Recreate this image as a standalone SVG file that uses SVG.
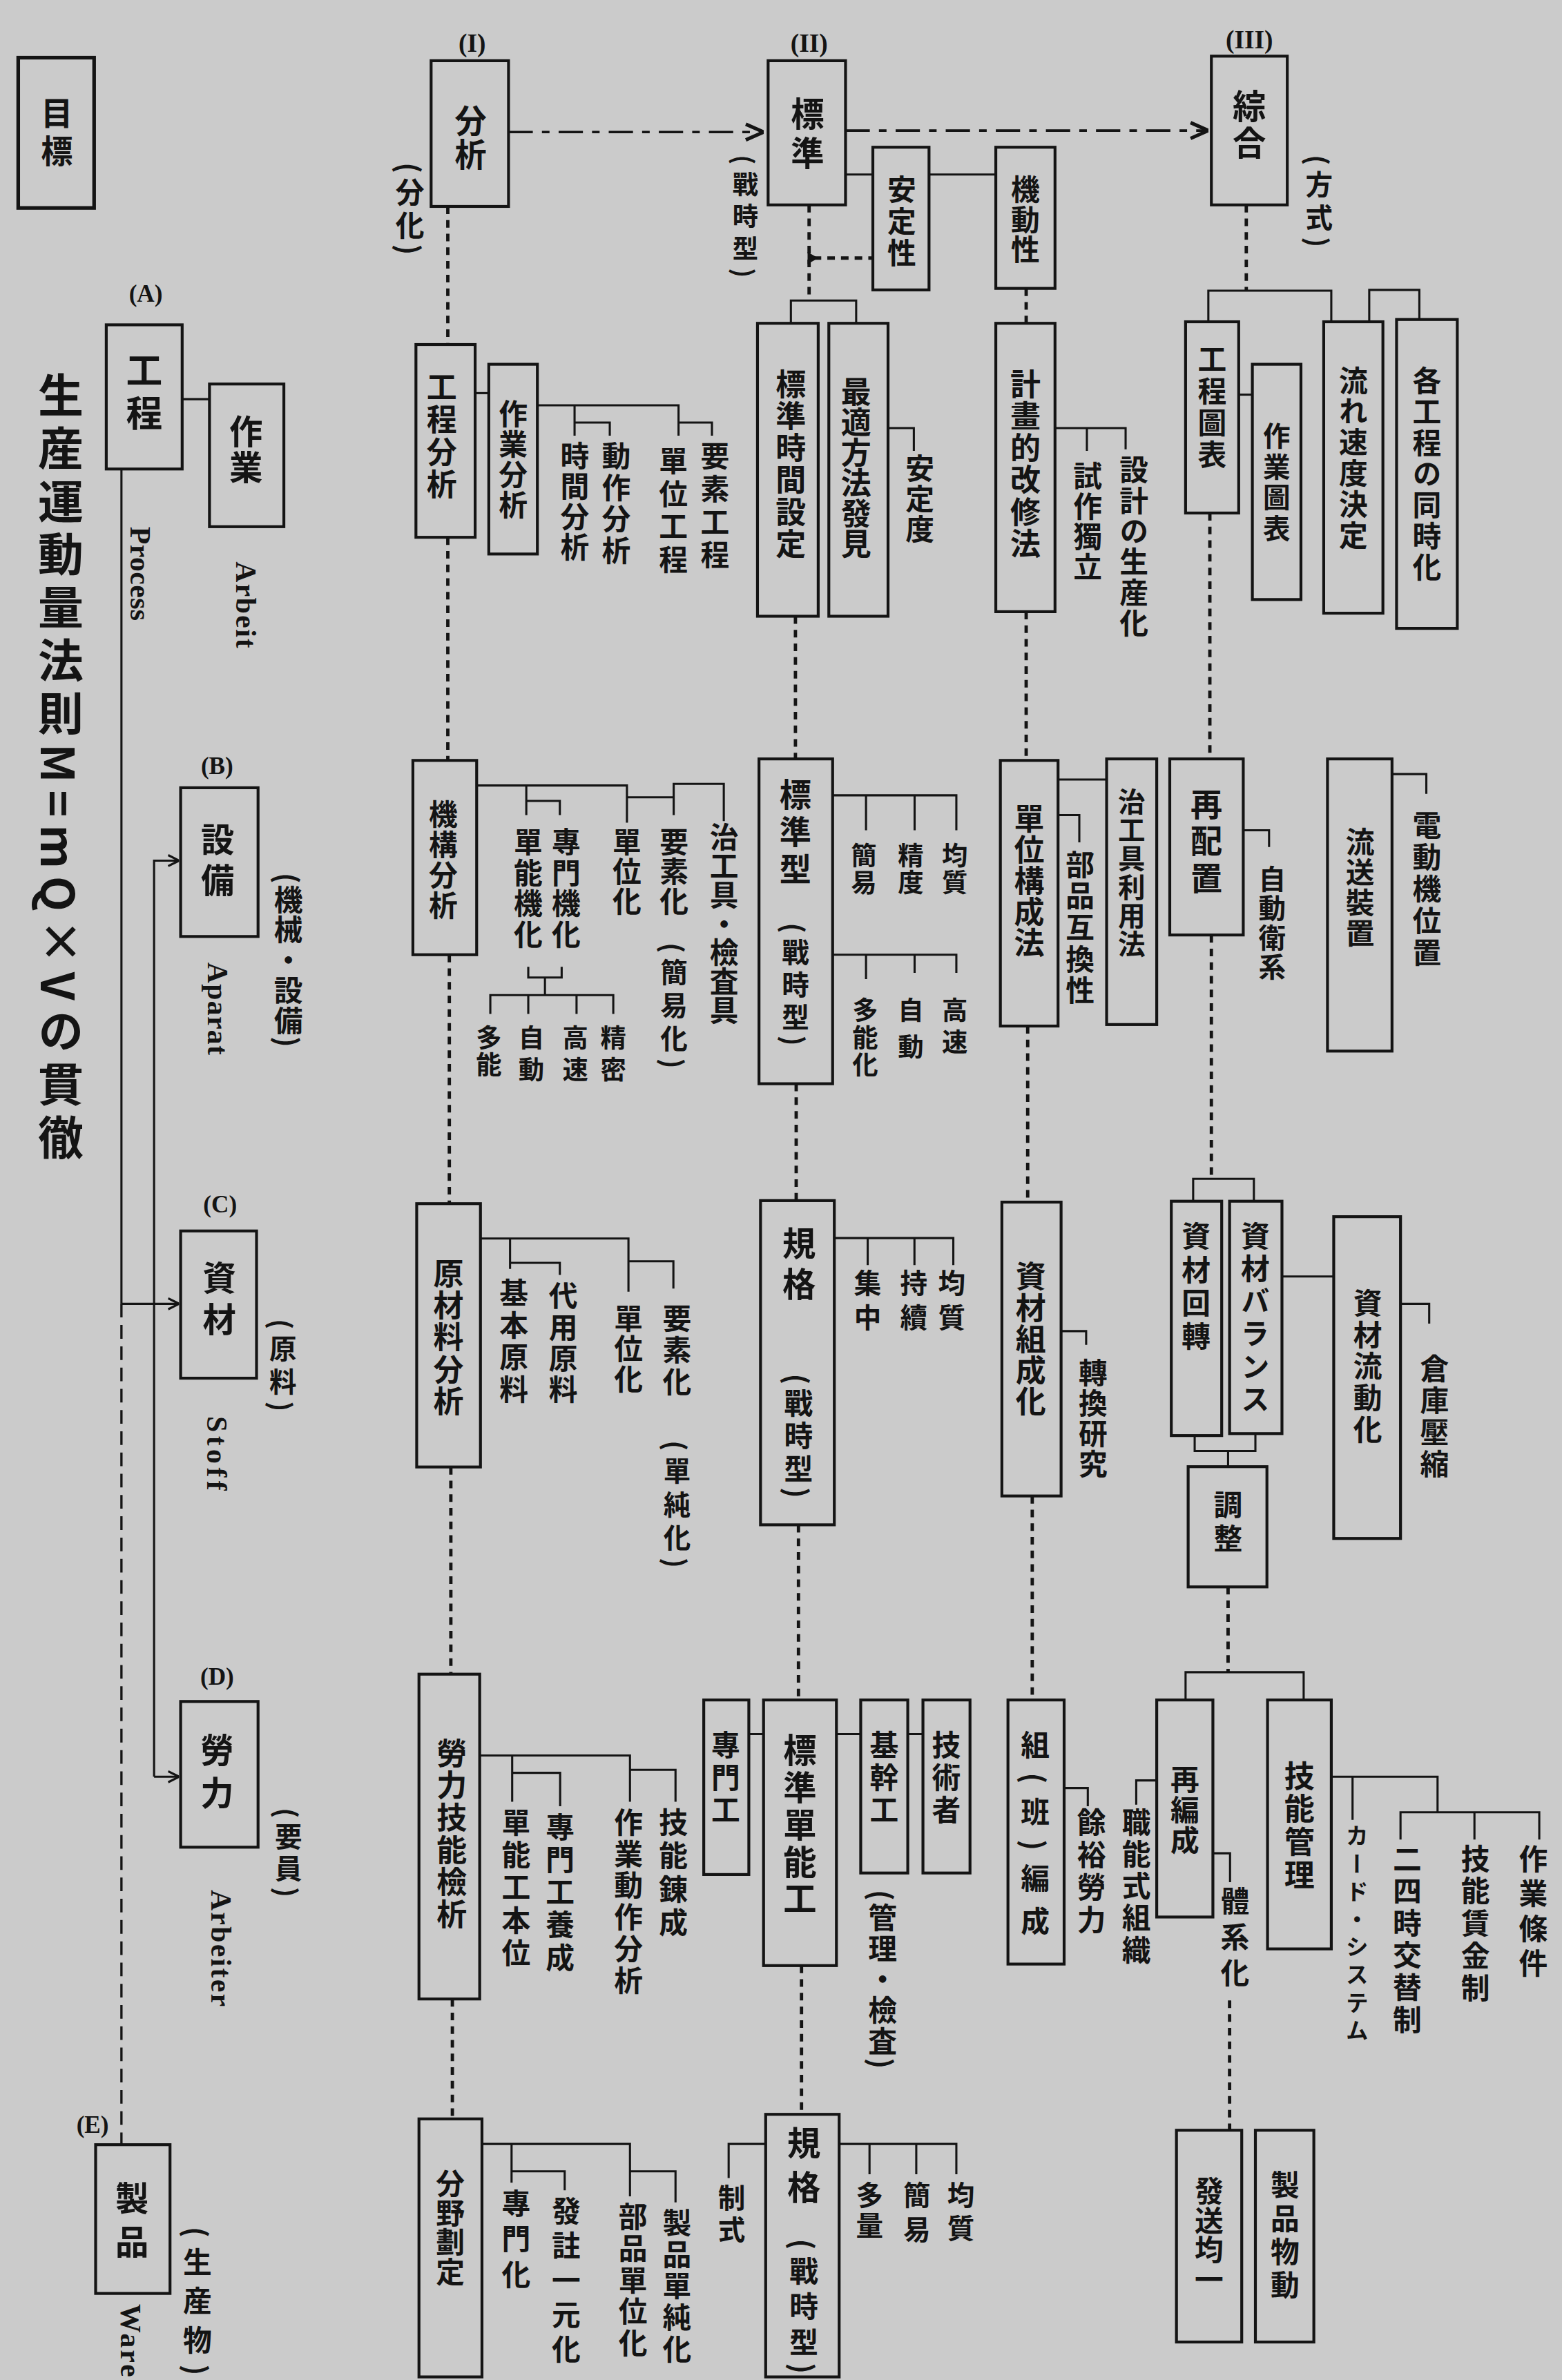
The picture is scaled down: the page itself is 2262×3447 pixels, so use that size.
<svg xmlns="http://www.w3.org/2000/svg" width="2262" height="3447" viewBox="0 0 2262 3447">
<style>
.bg{fill:#cbcbcb}
.b{fill:none;stroke:#141414;stroke-width:1.9}
.c{fill:none;stroke:#141414;stroke-width:1.4}
.d{fill:none;stroke:#141414;stroke-width:2.2;stroke-dasharray:5 4}
.dd{fill:none;stroke:#141414;stroke-width:1.7;stroke-dasharray:16 6 5 6}
.ld{fill:none;stroke:#141414;stroke-width:1.5;stroke-dasharray:9 5}
.v{writing-mode:vertical-rl;font-family:"Noto Sans CJK JP","Noto Sans CJK TC",sans-serif;font-weight:700;fill:#141414}
.l{writing-mode:vertical-rl;font-family:"Liberation Serif",serif;font-weight:700;fill:#141414}
.h{font-family:"Liberation Serif",serif;font-weight:700;fill:#141414;text-anchor:middle}
</style>
<defs>
<marker id="oa" viewBox="0 0 10 10" refX="10" refY="5" markerWidth="9" markerHeight="9" orient="auto" markerUnits="userSpaceOnUse"><path d="M2 1 L10 5 L2 9" fill="none" stroke="#141414" stroke-width="1.6"/></marker>
<marker id="ah" viewBox="0 0 10 10" refX="10" refY="5" markerWidth="13" markerHeight="13" orient="auto" markerUnits="userSpaceOnUse"><path d="M1 1 L10 5 L1 9" fill="none" stroke="#141414" stroke-width="1.8"/></marker>
</defs>
<rect class="bg" x="0" y="0" width="2262" height="3447"/>
<g transform="scale(2.1983)">

<g id="connectors">
<path class="dd" d="M335 87 H503" marker-end="url(#ah)"/>
<path class="dd" d="M557 86 H796" marker-end="url(#ah)"/>
<path class="c" d="M120 263 H138"/>
<path class="c" d="M80 309 V859"/>
<path class="ld" d="M80 859 V1413"/>
<path class="c" d="M80 859 H118" marker-end="url(#oa)"/>
<path class="c" d="M101.5 1170.6 V567 H118" marker-end="url(#oa)"/>
<path class="c" d="M101.5 1170.6 H118" marker-end="url(#oa)"/>
<path class="d" d="M295 136 V227 M295 354 V501 M296 629 V793 M297 966.5 V1103 M298 1317 V1396"/>
<path class="c" d="M313 259 H322"/>
<path class="c" d="M354 267 H447 V287 M378.5 267 V287 M378.5 278.4 H401.7 V287 M447 278.4 H469 V287"/>
<path class="c" d="M314 517.5 H413 V542 M346.7 517.5 V537 M346.7 527.7 H368.8 V537 M413 525.3 H443.8 V537 M443.8 525.3 V516.4 H476.8 V541"/>
<path class="c" d="M348 637 V644 H370 V637 M359 644 V655.6 M323 668 V655.6 H404 V668 M348 655.6 V668 M379.8 655.6 V668"/>
<path class="c" d="M316.4 816 H414 V851 M336 816 V836 M336 832 H368.8 V840 M414 831 H443.6 V849"/>
<path class="c" d="M316 1156.6 H415 V1187 M337.4 1156.6 V1187 M337.4 1168 H369 V1190 M415 1166 H445 V1187"/>
<path class="c" d="M317.5 1412.5 H415 V1447 M337 1412.5 V1438 M337 1430.5 H372 V1443 M415 1430.5 H445 V1451"/>
<path class="d" d="M533 135 V198 M524 406 V500 M524.5 714 V791 M526 1004.6 V1120 M528 1295 V1393"/>
<path class="d" d="M536 170 H575"/>
<path d="M532 166 L539 170 L532 174 Z" fill="#141414"/>
<path class="c" d="M521 213 V198 H564 V213"/>
<path class="c" d="M557 115 H575 M612 115 H656"/>
<path class="c" d="M585 282 H602 V297"/>
<path class="c" d="M548.5 524 H630 V547 M570.5 524 V547 M602.5 524 V547 M548.5 629 H630 V641 M570.5 629 V645 M602.5 629 V641"/>
<path class="c" d="M549.6 815.7 H628 V833.5 M571.6 815.7 V833.5 M602.4 815.7 V833.5"/>
<path class="c" d="M493.3 1142.5 H503 M551 1142.5 H567 M598 1142.5 H608"/>
<path class="c" d="M552.8 1412.5 H630 V1432.5 M572.8 1412.5 V1432.5 M603.6 1412.5 V1432.5 M504.4 1412.5 H480 V1435"/>
<path class="d" d="M676 190 V213 M676 403 V501 M677 676 V792 M680 985.6 V1120"/>
<path class="c" d="M695 282 H741.5 V296 M716 282 V297"/>
<path class="c" d="M697 513.6 H729 M697 537 H711 V555"/>
<path class="c" d="M699 877 H715.5 V886"/>
<path class="c" d="M701 1178 H716.6 V1190"/>
<path class="d" d="M821 135 V191.5 M797 338 V500 M798 616 V776.6 M809 1045.5 V1101.7 M810 1318 V1403.5"/>
<path class="c" d="M796 212 V191.5 H877 V212 M902 212 V191 H935 V210.5"/>
<path class="c" d="M816 260 H825"/>
<path class="c" d="M819 547 H836 V558 M917 510 H939.6 V523"/>
<path class="c" d="M786 791.4 V776.6 H826 V791.4 M787 945.8 V956 H827 V944.5 M809 956 V966.3 M844.5 841 H878.6 M922.6 859 H941.5 V872"/>
<path class="c" d="M781 1120 V1101.7 H858.8 V1120 M762 1173 H748.5 V1189 M799 1221 H810.3 V1240 M877 1170.6 H947 V1194 M891 1170.6 V1199 M922.6 1212 V1194 H1014 V1212 M971.3 1194 V1212"/>
</g>

<g id="n-mokuhyo"><rect class="b" x="12" y="38" width="50" height="99" style="stroke-width:2.4"/><text class="v" x="37.5" y="64" font-size="21" textLength="46">目標</text></g>
<g id="n-title"><text class="v" x="40" y="245" font-size="30" textLength="519">生産運動量法則M=mQ×Vの貫徹</text></g>

<g id="n-A"><text class="h" x="96" y="199" font-size="16">(A)</text><rect class="b" x="70" y="214" width="50" height="95"/><text class="v" x="95" y="232" font-size="24" textLength="52">工程</text><text class="l" x="92.5" y="347" font-size="19" textLength="62">Process</text></g>
<g id="n-sagyo"><rect class="b" x="138" y="253" width="49" height="94"/><text class="v" x="162" y="273" font-size="22" textLength="46">作業</text><text class="l" x="162" y="370" font-size="19" textLength="57">Arbeit</text></g>
<g id="n-B"><text class="h" x="143" y="510" font-size="16">(B)</text><rect class="b" x="119" y="519" width="51" height="98"/><text class="v" x="143.4" y="542" font-size="22" textLength="49">設備</text><text class="v" x="190" y="575" font-size="19" textLength="115">(機械・設備)</text><text class="l" x="143.3" y="634" font-size="19" textLength="61">Aparat</text></g>
<g id="n-C"><text class="h" x="145" y="799" font-size="16">(C)</text><rect class="b" x="119" y="811" width="50" height="97"/><text class="v" x="144.5" y="831" font-size="22" textLength="49">資材</text><text class="v" x="186.4" y="869" font-size="18" textLength="61">(原料)</text><text class="l" x="143" y="933" font-size="19" textLength="49">Stoff</text></g>
<g id="n-D"><text class="h" x="143" y="1110" font-size="16">(D)</text><rect class="b" x="119" y="1121" width="51" height="96"/><text class="v" x="143" y="1142" font-size="22" textLength="50">勞力</text><text class="v" x="190" y="1191" font-size="18" textLength="59">(要員)</text><text class="l" x="145.5" y="1245" font-size="19" textLength="77">Arbeiter</text></g>
<g id="n-E"><text class="h" x="61" y="1405" font-size="16">(E)</text><rect class="b" x="63" y="1413" width="49" height="98"/><text class="v" x="87" y="1437" font-size="22" textLength="51">製品</text><text class="v" x="130" y="1467" font-size="19" textLength="98">(生産物)</text><text class="l" x="86" y="1518" font-size="19" textLength="48">Ware</text></g>

<g id="n-bunseki"><text class="h" x="311" y="34" font-size="17">(I)</text><rect class="b" x="284" y="40" width="51" height="96"/><text class="v" x="310" y="69" font-size="21" textLength="43">分析</text><text class="v" x="270" y="107" font-size="19" textLength="61">(分化)</text></g>
<g id="n-koteibunseki"><rect class="b" x="274" y="227" width="39" height="127"/><text class="v" x="291" y="245" font-size="20" textLength="84">工程分析</text></g>
<g id="n-sagyobunseki"><rect class="b" x="322" y="240" width="32" height="125"/><text class="v" x="338" y="263" font-size="19" textLength="79">作業分析</text></g>
<g id="n-l1"><text class="v" x="378.7" y="291" font-size="19" textLength="79">時間分析</text><text class="v" x="406" y="291" font-size="19" textLength="81">動作分析</text><text class="v" x="443.6" y="294" font-size="19" textLength="84">單位工程</text><text class="v" x="471" y="291" font-size="19" textLength="84">要素工程</text></g>
<g id="n-kiko"><rect class="b" x="272" y="501" width="42" height="128"/><text class="v" x="292" y="527" font-size="19" textLength="79">機構分析</text></g>
<g id="n-l2"><text class="v" x="348" y="545" font-size="19" textLength="80">單能機化</text><text class="v" x="373" y="545" font-size="19" textLength="80">專門機化</text><text class="v" x="413" y="545" font-size="19" textLength="58">單位化</text><text class="v" x="444" y="545" font-size="19" textLength="58">要素化</text><text class="v" x="444" y="621" font-size="18" textLength="83">(簡易化)</text><text class="v" x="477" y="542" font-size="19" textLength="133">治工具・檢査具</text><text class="v" x="322" y="675" font-size="17" textLength="35">多能</text><text class="v" x="350" y="675" font-size="17" textLength="38">自動</text><text class="v" x="379" y="675" font-size="17" textLength="38">高速</text><text class="v" x="404" y="675" font-size="17" textLength="38">精密</text></g>
<g id="n-genzairyo"><rect class="b" x="274.5" y="793" width="42" height="173.5"/><text class="v" x="295.5" y="829" font-size="20" textLength="104">原材料分析</text></g>
<g id="n-l3"><text class="v" x="338.5" y="842" font-size="19" textLength="83">基本原料</text><text class="v" x="371" y="844" font-size="19" textLength="81">代用原料</text><text class="v" x="414" y="859" font-size="19" textLength="59">單位化</text><text class="v" x="446" y="859" font-size="19" textLength="61">要素化</text><text class="v" x="446" y="949" font-size="18" textLength="84">(單純化)</text></g>
<g id="n-roryoku"><rect class="b" x="276" y="1103" width="40" height="214"/><text class="v" x="297.6" y="1145" font-size="20" textLength="126">勞力技能檢析</text></g>
<g id="n-l4"><text class="v" x="340" y="1191" font-size="19" textLength="105">單能工本位</text><text class="v" x="369" y="1194" font-size="19" textLength="105">專門工養成</text><text class="v" x="414" y="1191" font-size="19" textLength="123">作業動作分析</text><text class="v" x="443.6" y="1191" font-size="19" textLength="85">技能錬成</text></g>
<g id="n-bunya"><rect class="b" x="276" y="1396" width="41.5" height="170"/><text class="v" x="296.6" y="1429" font-size="19" textLength="77">分野劃定</text></g>
<g id="n-l5"><text class="v" x="340" y="1442" font-size="19" textLength="66">專門化</text><text class="v" x="373" y="1447" font-size="19" textLength="110">發註一元化</text><text class="v" x="417" y="1451" font-size="19" textLength="102">部品單位化</text><text class="v" x="446" y="1455" font-size="19" textLength="102">製品單純化</text></g>

<g id="n-hyojun"><text class="h" x="533" y="34" font-size="17">(II)</text><rect class="b" x="506" y="40" width="51" height="95"/><text class="v" x="532" y="64" font-size="22" textLength="48">標準</text><text class="v" x="491" y="102" font-size="17" textLength="81">(戰時型)</text></g>
<g id="n-anteisei"><rect class="b" x="575" y="97" width="37" height="94"/><text class="v" x="594" y="115" font-size="19" textLength="61">安定性</text></g>
<g id="n-kidosei"><rect class="b" x="656" y="97" width="39" height="93"/><text class="v" x="675.5" y="115" font-size="19" textLength="59">機動性</text></g>
<g id="n-hyojunjikan"><rect class="b" x="499" y="213" width="40" height="193"/><text class="v" x="521" y="243" font-size="20" textLength="125">標準時間設定</text></g>
<g id="n-saiteki"><rect class="b" x="546" y="213" width="39" height="193"/><text class="v" x="564" y="248" font-size="20" textLength="120">最適方法發見</text></g>
<g id="n-anteido"><text class="v" x="606" y="299" font-size="19" textLength="59">安定度</text></g>
<g id="n-hyojungata"><rect class="b" x="500" y="500" width="48.5" height="214"/><text class="v" x="524" y="513" font-size="21" textLength="70">標準型</text><text class="v" x="524" y="608" font-size="18" textLength="81">(戰時型)</text></g>
<g id="n-l6"><text class="v" x="569" y="555" font-size="17" textLength="35">簡易</text><text class="v" x="600" y="555" font-size="17" textLength="35">精度</text><text class="v" x="629" y="555" font-size="17" textLength="35">均質</text><text class="v" x="570" y="657" font-size="17" textLength="53">多能化</text><text class="v" x="600" y="657" font-size="17" textLength="41">自動</text><text class="v" x="629" y="657" font-size="17" textLength="38">高速</text></g>
<g id="n-kikaku1"><rect class="b" x="501" y="791" width="48.6" height="213.6"/><text class="v" x="526.4" y="808" font-size="22" textLength="49">規格</text><text class="v" x="526" y="905" font-size="19" textLength="82">(戰時型)</text></g>
<g id="n-l7"><text class="v" x="571.6" y="836" font-size="18" textLength="41">集中</text><text class="v" x="602" y="836" font-size="18" textLength="41">持續</text><text class="v" x="627" y="836" font-size="18" textLength="41">均質</text></g>
<g id="n-senmonko"><rect class="b" x="463.6" y="1120" width="29.7" height="115"/><text class="v" x="478" y="1140" font-size="19" textLength="62">專門工</text></g>
<g id="n-hyojuntanno"><rect class="b" x="503" y="1120" width="48" height="175"/><text class="v" x="527" y="1142" font-size="22" textLength="120">標準單能工</text></g>
<g id="n-kikanko"><rect class="b" x="567" y="1120" width="31" height="114"/><text class="v" x="582.5" y="1140" font-size="19" textLength="62">基幹工</text><text class="v" x="581.4" y="1245" font-size="19" textLength="118">(管理・檢査)</text></g>
<g id="n-gijutsusha"><rect class="b" x="608" y="1120" width="31" height="114"/><text class="v" x="623.4" y="1140" font-size="19" textLength="62">技術者</text></g>
<g id="n-kikaku2"><rect class="b" x="504.4" y="1393" width="48.4" height="173"/><text class="v" x="529.6" y="1401" font-size="22" textLength="51">規格</text><text class="v" x="529.6" y="1475" font-size="19" textLength="89">(戰時型)</text></g>
<g id="n-l8"><text class="v" x="572.8" y="1437" font-size="18" textLength="38">多量</text><text class="v" x="604" y="1437" font-size="18" textLength="41">簡易</text><text class="v" x="633" y="1437" font-size="18" textLength="40">均質</text><text class="v" x="482" y="1439" font-size="18" textLength="39">制式</text></g>

<g id="n-keikaku"><rect class="b" x="656" y="213" width="39" height="190"/><text class="v" x="675.5" y="243" font-size="20" textLength="125">計畫的改修法</text></g>
<g id="n-l9"><text class="v" x="716.5" y="304" font-size="19" textLength="79">試作獨立</text><text class="v" x="747" y="300" font-size="19" textLength="120">設計の生産化</text></g>
<g id="n-tanikosei"><rect class="b" x="659" y="501" width="38" height="175"/><text class="v" x="678" y="529" font-size="20" textLength="102">單位構成法</text></g>
<g id="n-buhin"><text class="v" x="711.5" y="560" font-size="19" textLength="102">部品互換性</text></g>
<g id="n-jiko"><rect class="b" x="729" y="500" width="33" height="175"/><text class="v" x="745.5" y="519" font-size="18" textLength="112">治工具利用法</text></g>
<g id="n-shizaisosei"><rect class="b" x="660" y="792" width="39" height="193.6"/><text class="v" x="679" y="831" font-size="20" textLength="102">資材組成化</text></g>
<g id="n-tenkan"><text class="v" x="720" y="895" font-size="19" textLength="79">轉換研究</text></g>
<g id="n-kumi"><rect class="b" x="664" y="1120" width="37" height="174"/><text class="v" x="682" y="1140" font-size="19" textLength="135">組(班)編成</text></g>
<g id="n-yoyu"><text class="v" x="719" y="1191" font-size="19" textLength="83">餘裕勞力</text></g>

<g id="n-sogo"><text class="h" x="823" y="32" font-size="17">(III)</text><rect class="b" x="798" y="37" width="50" height="98"/><text class="v" x="823" y="59" font-size="22" textLength="46">綜合</text><text class="v" x="869" y="102" font-size="18" textLength="61">(方式)</text></g>
<g id="n-koteizuhyo"><rect class="b" x="781" y="212" width="35" height="126"/><text class="v" x="798.5" y="227" font-size="19" textLength="82">工程圖表</text></g>
<g id="n-sagyozuhyo"><rect class="b" x="825" y="240" width="32" height="155"/><text class="v" x="841" y="278" font-size="18" textLength="79">作業圖表</text></g>
<g id="n-nagare"><rect class="b" x="872" y="212" width="39" height="192"/><text class="v" x="891.5" y="241" font-size="19" textLength="121">流れ速度決定</text></g>
<g id="n-kakukotei"><rect class="b" x="920" y="210.5" width="40" height="203.5"/><text class="v" x="940" y="241" font-size="19" textLength="142">各工程の同時化</text></g>
<g id="n-saihaichi"><rect class="b" x="770.6" y="500" width="48.4" height="116"/><text class="v" x="794.8" y="519" font-size="21" textLength="70">再配置</text></g>
<g id="n-jidokei"><text class="v" x="838" y="570" font-size="18" textLength="76">自動衛系</text></g>
<g id="n-ryuso"><rect class="b" x="874.5" y="500" width="42.5" height="192.5"/><text class="v" x="896" y="545" font-size="19" textLength="79">流送裝置</text></g>
<g id="n-dendoki"><text class="v" x="940" y="534" font-size="19" textLength="103">電動機位置</text></g>
<g id="n-shizaikaiten"><rect class="b" x="771.6" y="791.4" width="33.2" height="154.4"/><text class="v" x="788" y="805" font-size="19" textLength="85">資材回轉</text></g>
<g id="n-shizaibalance"><rect class="b" x="810" y="791.4" width="34.5" height="153.1"/><text class="v" x="827" y="805" font-size="19" textLength="126">資材バランス</text></g>
<g id="n-chosei"><rect class="b" x="782.7" y="966.3" width="51.9" height="79.2"/><text class="v" x="809" y="982" font-size="19" textLength="41">調整</text></g>
<g id="n-shizairyudo"><rect class="b" x="878.6" y="801.6" width="44" height="212"/><text class="v" x="901" y="849" font-size="19" textLength="102">資材流動化</text></g>
<g id="n-soko"><text class="v" x="945" y="892" font-size="19" textLength="82">倉庫壓縮</text></g>
<g id="n-saihensei"><rect class="b" x="762" y="1120" width="37" height="143"/><text class="v" x="780.5" y="1163" font-size="19" textLength="59">再編成</text></g>
<g id="n-ginokanri"><rect class="b" x="835" y="1120" width="42" height="164"/><text class="v" x="856" y="1160" font-size="20" textLength="85">技能管理</text></g>
<g id="n-shokuno"><text class="v" x="748.6" y="1191" font-size="19" textLength="103">職能式組織</text></g>
<g id="n-taikei"><text class="v" x="813.5" y="1243" font-size="19" textLength="66">體系化</text></g>
<g id="n-card"><text class="v" x="894" y="1202" font-size="15" textLength="143">カード・システム</text></g>
<g id="n-l10"><text class="v" x="927" y="1215" font-size="19" textLength="125">二四時交替制</text><text class="v" x="972" y="1215" font-size="19" textLength="104">技能賃金制</text><text class="v" x="1010" y="1215" font-size="19" textLength="88">作業條件</text></g>
<g id="n-hasso"><rect class="b" x="775" y="1403.5" width="43" height="139.5"/><text class="v" x="796.5" y="1434" font-size="19" textLength="77">發送均一</text></g>
<g id="n-seihin"><rect class="b" x="827" y="1403.5" width="38.5" height="139.5"/><text class="v" x="846.5" y="1430" font-size="19" textLength="85">製品物動</text></g>
</g>
</svg>
